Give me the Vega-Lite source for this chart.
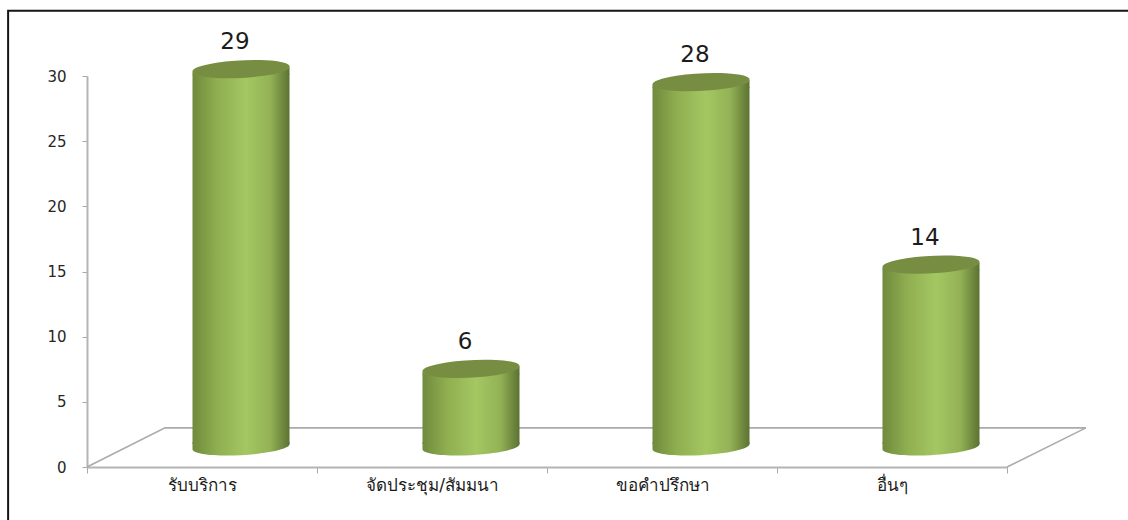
{
  "$schema": "https://vega.github.io/schema/vega-lite/v6.json",
  "width": 920,
  "height": 391,
  "autosize": "none",
  "padding": {"left": 87, "top": 76, "right": 121, "bottom": 53},
  "background": "white",
  "config": {"view": {"stroke": null}},
  "datasets": {
    "counts": [
      {"category": "รับบริการ", "value": 29},
      {"category": "จัดประชุม/สัมมนา", "value": 6},
      {"category": "ขอคำปรึกษา", "value": 28},
      {"category": "อื่นๆ", "value": 14}
    ],
    "frame": [
      {"seq": 1, "slot": -0.343, "level": -4.07},
      {"seq": 2, "slot": -0.343, "level": 35},
      {"seq": 3, "slot": 4.53, "level": 35}
    ],
    "floor": [
      {"seq": 1, "slot": 0, "level": 0},
      {"seq": 2, "slot": 0.339, "level": 3},
      {"seq": 3, "slot": 4.343, "level": 3},
      {"seq": 4, "slot": 4, "level": 0}
    ]
  },
  "layer": [
    {
      "layer": [
        {
          "data": {"name": "frame"},
          "mark": {"type": "line", "stroke": "#151515", "strokeWidth": 2, "clip": false},
          "encoding": {
            "order": {"field": "seq", "type": "quantitative"},
            "x": {"field": "slot", "type": "quantitative", "scale": {"domain": [0, 4], "nice": false, "zero": false}, "axis": null},
            "y": {
              "field": "level",
              "type": "quantitative",
              "scale": {"domain": [0, 30], "nice": false},
              "axis": {
                "title": null,
                "values": [0, 5, 10, 15, 20, 25, 30],
                "grid": false,
                "domainColor": "#b4b4b4",
                "domainWidth": 2,
                "tickColor": "#a8a8a8",
                "tickSize": 5,
                "tickWidth": 1,
                "labelFont": "DejaVu Sans",
                "labelFontSize": 15,
                "labelColor": "#262626",
                "labelPadding": 16
              }
            }
          }
        },
        {
          "data": {"name": "floor"},
          "mark": {"type": "line", "stroke": "#ababab", "strokeWidth": 1.6, "clip": false},
          "encoding": {
            "order": {"field": "seq", "type": "quantitative"},
            "x": {"field": "slot", "type": "quantitative"},
            "y": {"field": "level", "type": "quantitative"}
          }
        }
      ]
    },
    {
      "data": {"name": "counts"},
      "encoding": {
        "x": {
          "field": "category",
          "type": "nominal",
          "sort": null,
          "scale": {"paddingInner": 0, "paddingOuter": 0},
          "axis": {
            "title": null,
            "orient": "bottom",
            "labelAngle": 0,
            "tickBand": "extent",
            "domainColor": "#b4b4b4",
            "domainWidth": 2,
            "tickColor": "#a8a8a8",
            "tickSize": 6,
            "labelFont": "DejaVu Sans",
            "labelFontSize": 17,
            "labelColor": "#1a1a1a",
            "labelPadding": 4
          }
        }
      },
      "layer": [
        {
          "mark": {
            "type": "bar",
            "width": 97,
            "xOffset": 39,
            "yOffset": -15,
            "y2Offset": -23,
            "fill": {
              "gradient": "linear",
              "x1": 0, "y1": 0, "x2": 1, "y2": 0,
              "stops": [
                {"offset": 0, "color": "#6f8a3c"},
                {"offset": 0.25, "color": "#8fae50"},
                {"offset": 0.55, "color": "#a4c762"},
                {"offset": 0.8, "color": "#93b255"},
                {"offset": 1, "color": "#5c7233"}
              ]
            }
          },
          "encoding": {
            "y": {"field": "value", "type": "quantitative"},
            "y2": {"datum": 0}
          }
        },
        {
          "mark": {
            "type": "point",
            "filled": true,
            "opacity": 1,
            "size": 9409,
            "xOffset": 39,
            "yOffset": -20,
            "shape": "M-1,0.05 A1.002,0.175,-3,0,0,1,-0.05 L1,0.12 L-1,0.12 Z",
            "fill": {
              "gradient": "linear",
              "x1": 0, "y1": 0, "x2": 1, "y2": 0,
              "stops": [
                {"offset": 0, "color": "#6f8a3c"},
                {"offset": 0.25, "color": "#8fae50"},
                {"offset": 0.55, "color": "#a4c762"},
                {"offset": 0.8, "color": "#93b255"},
                {"offset": 1, "color": "#5c7233"}
              ]
            }
          },
          "encoding": {"y": {"field": "value", "type": "quantitative"}}
        },
        {
          "mark": {
            "type": "point",
            "filled": true,
            "opacity": 1,
            "size": 9409,
            "xOffset": 39,
            "yOffset": -20,
            "shape": "M-1,-0.1 L-1,0.05 A1.002,0.175,-3,0,0,1,-0.05 L1,-0.1 Z",
            "fill": {
              "gradient": "linear",
              "x1": 0, "y1": 0, "x2": 1, "y2": 0,
              "stops": [
                {"offset": 0, "color": "#6f8a3c"},
                {"offset": 0.25, "color": "#8fae50"},
                {"offset": 0.55, "color": "#a4c762"},
                {"offset": 0.8, "color": "#93b255"},
                {"offset": 1, "color": "#5c7233"}
              ]
            }
          },
          "encoding": {"y": {"datum": 0}}
        },
        {
          "mark": {
            "type": "point",
            "filled": true,
            "opacity": 1,
            "size": 9409,
            "xOffset": 39,
            "yOffset": -20,
            "shape": "M-1,0.05 A1.002,0.175,-3,1,1,1,-0.05 A1.002,0.175,-3,1,1,-1,0.05 Z",
            "fill": "#778e42"
          },
          "encoding": {"y": {"field": "value", "type": "quantitative"}}
        },
        {
          "mark": {
            "type": "text",
            "font": "DejaVu Sans",
            "fontSize": 23,
            "fill": "#1c1c1c",
            "baseline": "alphabetic",
            "xOffset": 33,
            "yOffset": -40
          },
          "encoding": {
            "y": {"field": "value", "type": "quantitative"},
            "text": {"field": "value", "type": "quantitative"}
          }
        }
      ]
    }
  ],
  "resolve": {"scale": {"x": "independent"}}
}
